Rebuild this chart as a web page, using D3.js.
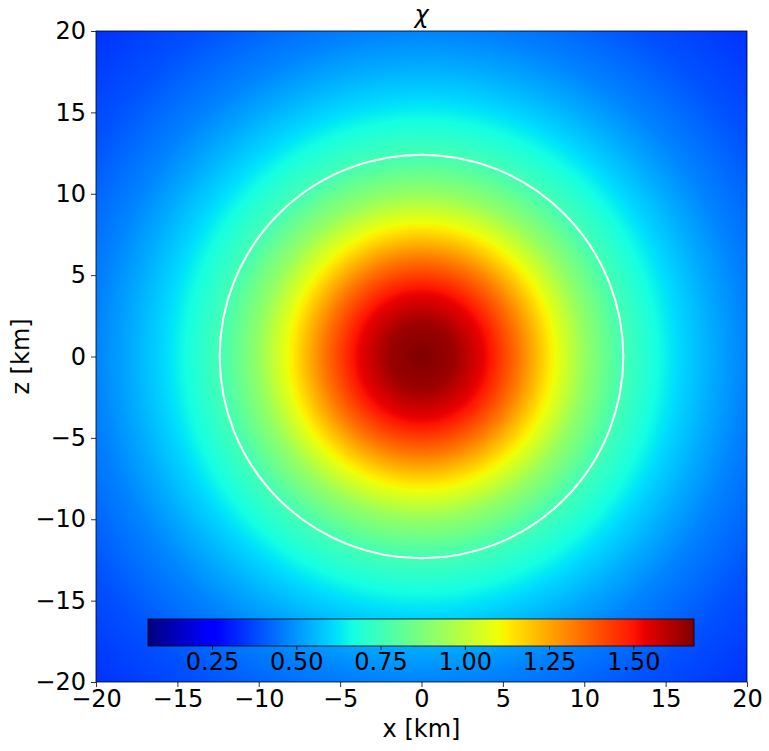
<!DOCTYPE html>
<html>
<head>
<meta charset="utf-8">
<script src="https://d3js.org/d3.v7.min.js"></script>
<style>
body{margin:0;background:#fff;}
svg text{font-family:"DejaVu Sans",sans-serif;fill:#000;}
</style>
</head>
<body>
<svg id="chart" width="769" height="751"></svg>
<script>
// ---- data ----
const radii   = [0, 2, 4, 6, 8, 10, 12, 14, 16, 18, 20, 24, 28.3];          // km
const chiVals = [1.68, 1.64, 1.52, 1.33, 1.12, 0.92, 0.78, 0.69, 0.60, 0.53, 0.47, 0.39, 0.34];
const xTicks = [-20, -15, -10, -5, 0, 5, 10, 15, 20];
const zTicks = [-20, -15, -10, -5, 0, 5, 10, 15, 20];
const cbarTicks = [0.25, 0.50, 0.75, 1.00, 1.25, 1.50];
const cbarDomain = [0.06, 1.68];
const circleRadius = 12.4; // km

// jet colormap (matplotlib segment data)
const jetR = d3.scaleLinear().domain([0, 0.35, 0.66, 0.89, 1]).range([0, 0, 1, 1, 0.5]).clamp(true);
const jetG = d3.scaleLinear().domain([0, 0.125, 0.375, 0.64, 0.91, 1]).range([0, 0, 1, 1, 0, 0]).clamp(true);
const jetB = d3.scaleLinear().domain([0, 0.11, 0.34, 0.65, 1]).range([0.5, 1, 1, 0, 0]).clamp(true);
const norm = d3.scaleLinear().domain(cbarDomain).range([0, 1]).clamp(true);
function jet(t){ return [jetR(t)*255, jetG(t)*255, jetB(t)*255]; }

const FS = 24;
const svg = d3.select("#chart");
const L = 96, R = 747, T = 31, B = 682;
const x = d3.scaleLinear().domain([-20, 20]).range([L, R]);
const z = d3.scaleLinear().domain([-20, 20]).range([B, T]);
const profile = d3.scaleLinear().domain(radii).range(chiVals).clamp(true);

// heatmap raster
const W = R - L, H = B - T;
const canvas = document.createElement("canvas");
canvas.width = W; canvas.height = H;
const ctx = canvas.getContext("2d");
const img = ctx.createImageData(W, H);
for (let j = 0; j < H; j++) {
  const zz = z.invert(T + j + 0.5);
  for (let i = 0; i < W; i++) {
    const xx = x.invert(L + i + 0.5);
    const c = jet(norm(profile(Math.hypot(xx, zz))));
    const k = (j * W + i) * 4;
    img.data[k] = c[0]; img.data[k+1] = c[1]; img.data[k+2] = c[2]; img.data[k+3] = 255;
  }
}
ctx.putImageData(img, 0, 0);
svg.append("image").attr("x", L).attr("y", T).attr("width", W).attr("height", H)
  .attr("preserveAspectRatio", "none").attr("href", canvas.toDataURL());

// circle
svg.append("circle").attr("cx", x(0)).attr("cy", z(0))
  .attr("r", x(circleRadius) - x(0))
  .attr("fill", "none").attr("stroke", "#fff").attr("stroke-width", 2);

// colorbar
const cbL = 148, cbR = 694, cbT = 619, cbB = 646;
const cbx = d3.scaleLinear().domain(cbarDomain).range([cbL, cbR]);
const cw = cbR - cbL;
const cc = document.createElement("canvas"); cc.width = cw; cc.height = 1;
const cctx = cc.getContext("2d"); const cimg = cctx.createImageData(cw, 1);
for (let i = 0; i < cw; i++) {
  const c = jet(norm(cbx.invert(cbL + i + 0.5)));
  cimg.data[i*4] = c[0]; cimg.data[i*4+1] = c[1]; cimg.data[i*4+2] = c[2]; cimg.data[i*4+3] = 255;
}
cctx.putImageData(cimg, 0, 0);
svg.append("image").attr("x", cbL).attr("y", cbT).attr("width", cw).attr("height", cbB - cbT)
  .attr("preserveAspectRatio", "none").attr("href", cc.toDataURL());
svg.append("rect").attr("x", cbL).attr("y", cbT).attr("width", cw).attr("height", cbB - cbT)
  .attr("fill", "none").attr("stroke", "#000").attr("stroke-width", 0.8);
const cbAxis = svg.append("g").attr("transform", `translate(0,${cbB})`)
  .call(d3.axisBottom(cbx).tickValues(cbarTicks).tickFormat(d3.format(".2f")).tickSizeOuter(0).tickSize(4).tickPadding(3));
cbAxis.select(".domain").remove();
cbAxis.selectAll("text").attr("font-size", FS).style("font-family", "DejaVu Sans");
cbAxis.selectAll("line").attr("stroke", "#000").attr("stroke-width", 0.8);

// axes
const fmt = d => (d < 0 ? "\u2212" + Math.abs(d) : "" + d);
const xa = svg.append("g").attr("transform", `translate(0,${B})`)
  .call(d3.axisBottom(x).tickValues(xTicks).tickFormat(fmt).tickSize(5).tickPadding(3).tickSizeOuter(0));
const za = svg.append("g").attr("transform", `translate(${L},0)`)
  .call(d3.axisLeft(z).tickValues(zTicks).tickFormat(fmt).tickSize(5).tickPadding(5).tickSizeOuter(0));
[xa, za].forEach(a => {
  a.select(".domain").remove();
  a.selectAll("text").attr("font-size", FS).style("font-family", "DejaVu Sans");
  a.selectAll("line").attr("stroke", "#000").attr("stroke-width", 0.8);
});
svg.append("rect").attr("x", L).attr("y", T).attr("width", W).attr("height", H)
  .attr("fill", "none").attr("stroke", "#000").attr("stroke-width", 0.8);

// labels
svg.append("text").attr("x", (L + R) / 2).attr("y", 23).attr("text-anchor", "middle")
  .attr("font-size", FS).attr("font-style", "italic").text("χ");
svg.append("text").attr("x", (L + R) / 2).attr("y", 737).attr("text-anchor", "middle")
  .attr("font-size", FS).text("x [km]");
svg.append("text").attr("transform", `translate(29,${(T + B) / 2}) rotate(-90)`).attr("text-anchor", "middle")
  .attr("font-size", FS).text("z [km]");
</script>
</body>
</html>
